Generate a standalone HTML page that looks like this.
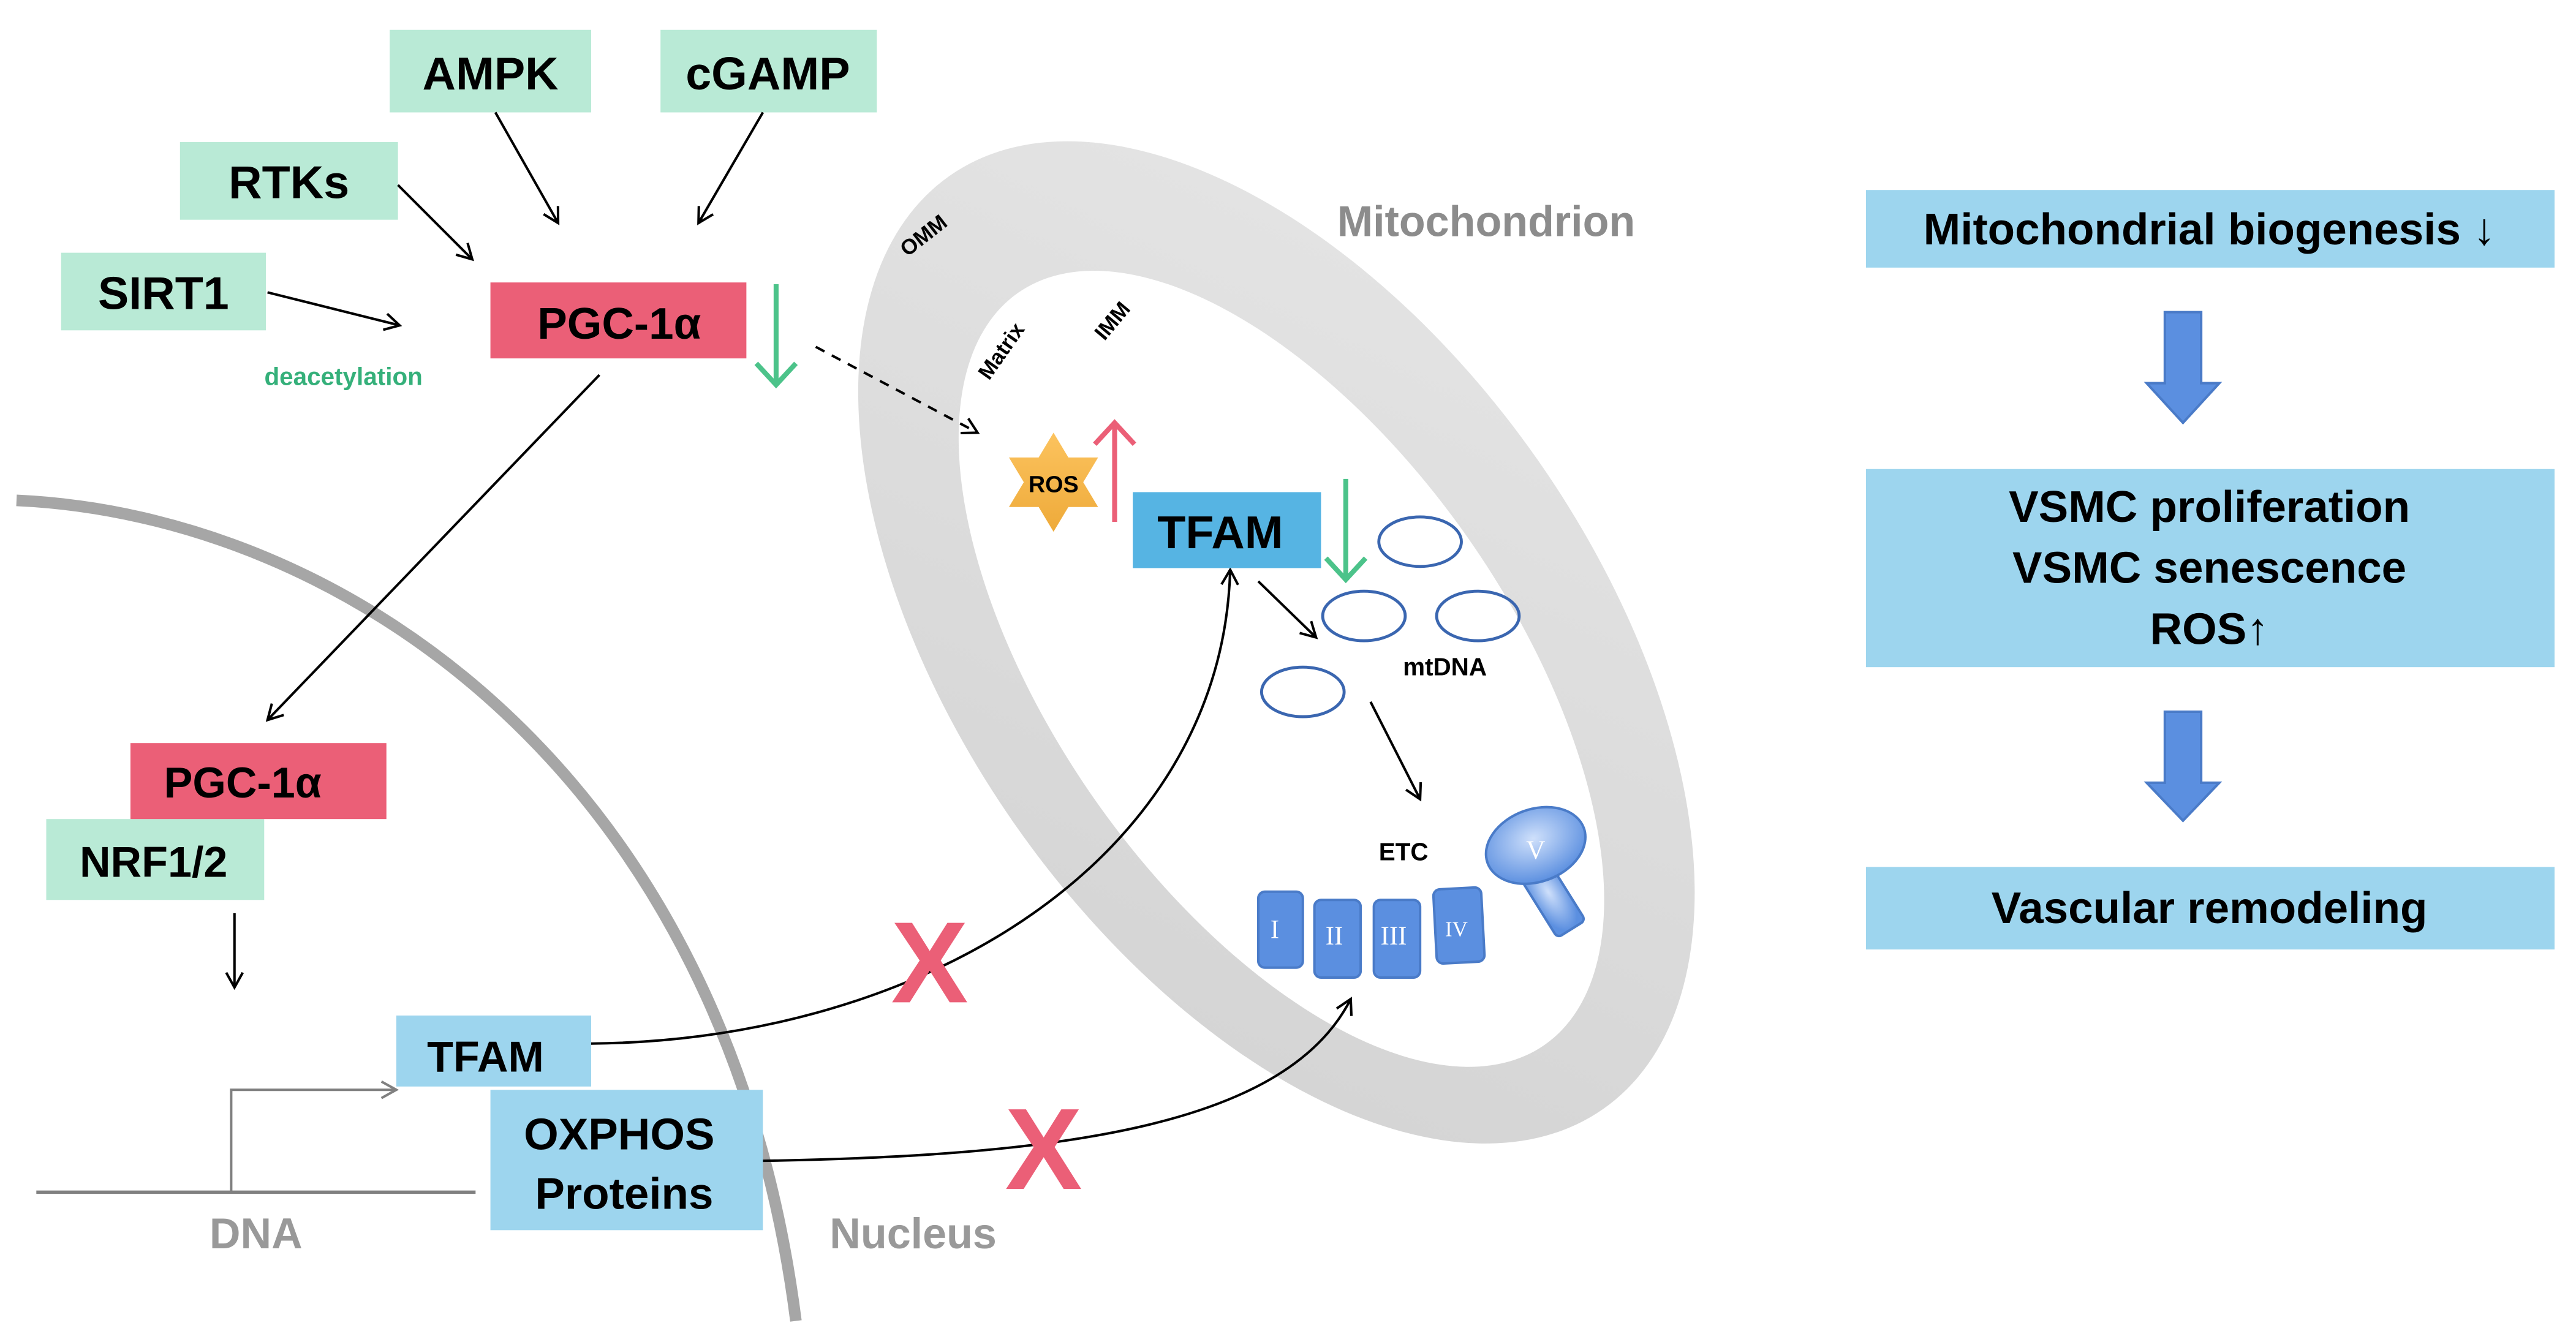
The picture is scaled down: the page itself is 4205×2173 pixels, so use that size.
<!DOCTYPE html>
<html><head><meta charset="utf-8"><style>html,body{margin:0;padding:0;background:#fff}svg{display:block}text{font-family:"Liberation Sans",Arial,sans-serif;font-weight:bold}text.rn{font-family:"Liberation Serif",serif;font-weight:normal}</style></head>
<body>
<svg width="4205" height="2173" viewBox="0 0 1560 806" xmlns="http://www.w3.org/2000/svg">
<defs>
<marker id="ah" markerWidth="12" markerHeight="12" refX="10" refY="6" orient="auto" markerUnits="userSpaceOnUse"><path d="M1,1 L10,6 L1,11" fill="none" stroke="#000" stroke-width="1.5"/></marker>
<marker id="ahg" markerWidth="12" markerHeight="12" refX="10" refY="6" orient="auto" markerUnits="userSpaceOnUse"><path d="M1,1 L10,6 L1,11" fill="none" stroke="#808080" stroke-width="1.5"/></marker>
<linearGradient id="mg" x1="0" y1="0" x2="1" y2="1"><stop offset="0" stop-color="#e6e6e6"/><stop offset="1" stop-color="#d2d2d2"/></linearGradient>
<linearGradient id="sg" x1="0" y1="0" x2="0" y2="1"><stop offset="0" stop-color="#fcc35e"/><stop offset="1" stop-color="#eeaa3a"/></linearGradient>
<radialGradient id="vg" cx="0.5" cy="0.4" r="0.6"><stop offset="0" stop-color="#cfe0fb"/><stop offset="1" stop-color="#5b8fe0"/></radialGradient>
</defs>
<!-- mitochondrion -->
<ellipse cx="773" cy="389" rx="345" ry="193" transform="rotate(55 773 389)" fill="url(#mg)"/>
<ellipse cx="776" cy="405" rx="278" ry="138" transform="rotate(55 776 405)" fill="#fff"/>
<!-- nucleus arc -->
<path d="M10,303 C210,312 440,470 482,800" fill="none" stroke="#a6a6a6" stroke-width="7"/>
<!-- top boxes -->
<g fill="#b9ead6">
<rect x="236" y="18" width="122" height="50"/><rect x="400" y="18" width="131" height="50"/>
<rect x="109" y="86" width="132" height="47"/><rect x="37" y="153" width="124" height="47"/>
<rect x="28" y="496" width="132" height="49"/>
</g>
<text x="297" y="54" font-size="28" text-anchor="middle">AMPK</text>
<text x="465" y="54" font-size="28" text-anchor="middle">cGAMP</text>
<text x="175" y="120" font-size="28" text-anchor="middle">RTKs</text>
<text x="99" y="187" font-size="28" text-anchor="middle">SIRT1</text>
<text x="93" y="531" font-size="26" text-anchor="middle">NRF1/2</text>
<text x="208" y="233" font-size="15" text-anchor="middle" fill="#35b07a">deacetylation</text>
<rect x="297" y="171" width="155" height="46" fill="#eb5f77"/>
<text x="375" y="205" font-size="27" text-anchor="middle">PGC-1α</text>
<rect x="79" y="450" width="155" height="46" fill="#eb5f77"/>
<text x="147" y="483" font-size="26" text-anchor="middle">PGC-1α</text>
<!-- arrows -->
<g stroke="#000" stroke-width="1.5" fill="none" marker-end="url(#ah)">
<line x1="300" y1="68" x2="338" y2="135"/>
<line x1="462" y1="68" x2="423" y2="135"/>
<line x1="241" y1="112" x2="286" y2="157"/>
<line x1="162" y1="177" x2="242" y2="197"/>
<line x1="363" y1="227" x2="162" y2="436"/>
<line x1="142" y1="553" x2="142" y2="598"/>
<line x1="494" y1="210" x2="592" y2="262" stroke-dasharray="6,5"/>
<line x1="762" y1="352" x2="797" y2="386"/>
<line x1="830" y1="425" x2="860" y2="484"/>
<path d="M358,632 C560,630 740,520 745,345"/>
<path d="M462,703 C650,700 780,680 818,605"/>
</g>
<!-- green arrows -->
<g stroke="#4cc38a" stroke-width="3" fill="none">
<line x1="470" y1="172" x2="470" y2="232"/><path d="M458,220 L470,233 L482,220"/>
<line x1="815" y1="290" x2="815" y2="350"/><path d="M803,338 L815,351 L827,338"/>
</g>
<g stroke="#eb5f77" stroke-width="3" fill="none">
<line x1="675" y1="316" x2="675" y2="256"/><path d="M663,269 L675,256 L687,269"/>
</g>
<!-- DNA -->
<line x1="22" y1="722" x2="288" y2="722" stroke="#808080" stroke-width="2"/>
<path d="M140,722 V660 H240" fill="none" stroke="#808080" stroke-width="1.5" marker-end="url(#ahg)"/>
<text x="155" y="756" font-size="26" text-anchor="middle" fill="#999">DNA</text>
<text x="553" y="756" font-size="26" text-anchor="middle" fill="#999">Nucleus</text>
<rect x="240" y="615" width="118" height="43" fill="#9dd5ee"/>
<text x="294" y="649" font-size="26" text-anchor="middle">TFAM</text>
<rect x="297" y="660" width="165" height="85" fill="#9dd5ee"/>
<text x="375" y="696" font-size="27" text-anchor="middle">OXPHOS</text>
<text x="378" y="732" font-size="27" text-anchor="middle">Proteins</text>
<g font-size="70" fill="#eb5f77" text-anchor="middle"><text x="563" y="607">X</text><text x="632" y="720">X</text></g>
<!-- mito labels -->
<text x="900" y="143" font-size="26" text-anchor="middle" fill="#8c8c8c">Mitochondrion</text>
<text x="562" y="146" font-size="13" transform="rotate(-38 562 146)" text-anchor="middle">OMM</text>
<text x="610" y="215" font-size="13" transform="rotate(-55 610 215)" text-anchor="middle">Matrix</text>
<text x="677" y="197" font-size="13" transform="rotate(-50 677 197)" text-anchor="middle">IMM</text>
<polygon points="638,262 647,277 665,277 656,292 665,307 647,307 638,322 629,307 611,307 620,292 611,277 629,277" fill="url(#sg)"/>
<text x="638" y="298" font-size="14" text-anchor="middle">ROS</text>
<rect x="686" y="298" width="114" height="46" fill="#56b4e3"/>
<text x="739" y="332" font-size="28" text-anchor="middle">TFAM</text>
<g fill="none" stroke="#3a66b0" stroke-width="1.8">
<ellipse cx="860" cy="328" rx="25" ry="15"/><ellipse cx="826" cy="373" rx="25" ry="15"/>
<ellipse cx="895" cy="373" rx="25" ry="15"/><ellipse cx="789" cy="419" rx="25" ry="15"/>
</g>
<text x="875" y="409" font-size="15" text-anchor="middle">mtDNA</text>
<text x="850" y="521" font-size="15" text-anchor="middle">ETC</text>
<g fill="#5b8fe0" stroke="#4a7bc8" stroke-width="1.5">
<rect x="762" y="540" width="27" height="46" rx="4"/>
<rect x="796" y="545" width="28" height="47" rx="4"/>
<rect x="832" y="545" width="28" height="47" rx="4"/>
<rect x="869" y="538" width="29" height="45" rx="4" transform="rotate(-3 883 560)"/>
<rect x="930" y="522" width="20" height="44" rx="3" transform="rotate(-32 940 544)" fill="url(#vg)"/>
<ellipse cx="930" cy="512" rx="31" ry="22" transform="rotate(-20 930 512)" fill="url(#vg)"/>
</g>
<g fill="#fff" font-size="16" text-anchor="middle">
<text class="rn" x="772" y="568">I</text><text class="rn" x="808" y="572">II</text><text class="rn" x="844" y="572">III</text><text class="rn" x="882" y="567" font-size="13">IV</text><text class="rn" x="930" y="520">V</text>
</g>
<!-- right panel -->
<g fill="#9dd5ee">
<rect x="1130" y="115" width="417" height="47"/>
<rect x="1130" y="284" width="417" height="120"/>
<rect x="1130" y="525" width="417" height="50"/>
</g>
<g font-size="27" text-anchor="middle">
<text x="1338" y="148">Mitochondrial biogenesis ↓</text>
<text x="1338" y="316">VSMC proliferation</text>
<text x="1338" y="353">VSMC senescence</text>
<text x="1338" y="390">ROS↑</text>
<text x="1338" y="559">Vascular remodeling</text>
</g>
<g fill="#5b8fe0" stroke="#4a7bc8" stroke-width="1.5">
<polygon points="1311,189 1333,189 1333,232 1344,232 1322,256 1300,232 1311,232"/>
<polygon points="1311,431 1333,431 1333,474 1344,474 1322,497 1300,474 1311,474"/>
</g>
</svg>
</body></html>
